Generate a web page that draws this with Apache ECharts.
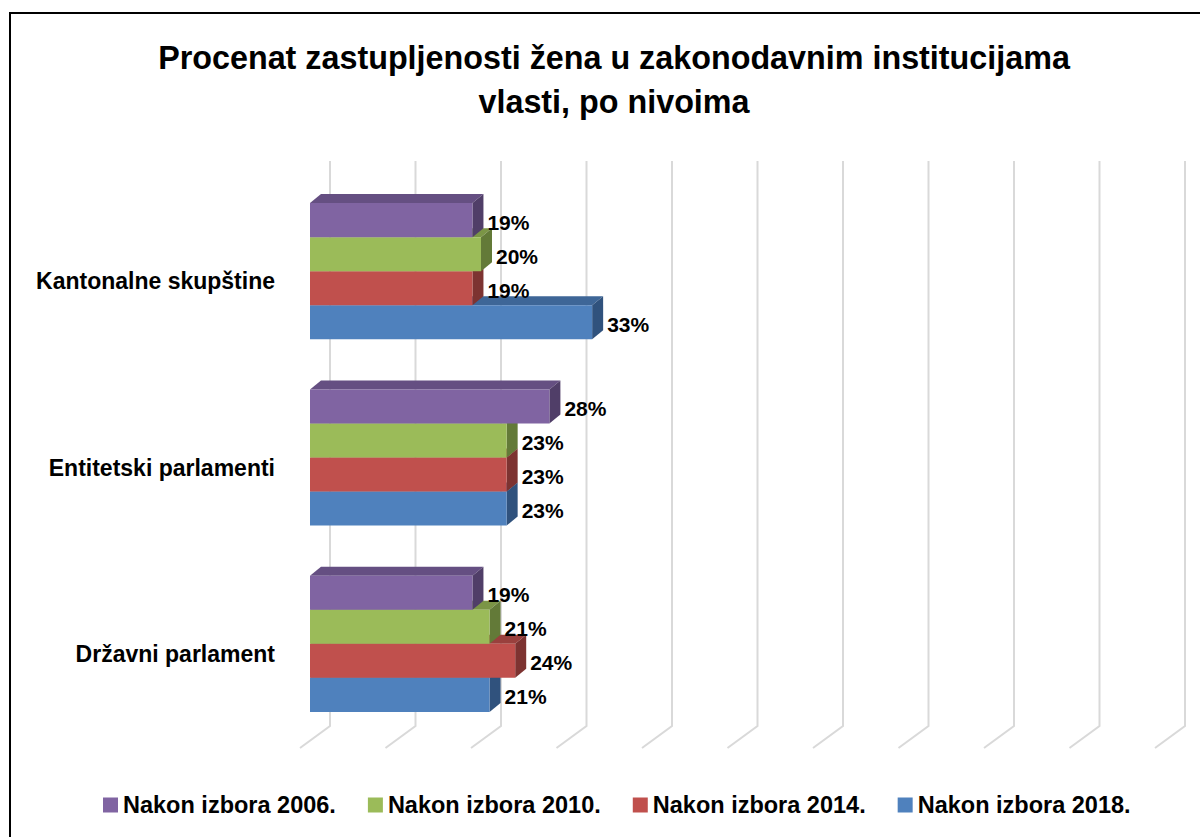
<!DOCTYPE html>
<html>
<head>
<meta charset="utf-8">
<script src="https://cdn.jsdelivr.net/npm/echarts@6/dist/echarts.min.js"></script>
<style>
  html, body { margin: 0; padding: 0; background: #fff; }
  #chart { width: 1200px; height: 837px; }
</style>
</head>
<body>
<div id="chart"></div>
<script>
const categories = ['Kantonalne skupštine', 'Entitetski parlamenti', 'Državni parlament'];
const years = ['Nakon izbora 2006.', 'Nakon izbora 2010.', 'Nakon izbora 2014.', 'Nakon izbora 2018.'];
const values2006 = [19, 28, 19];
const values2010 = [20, 23, 21];
const values2014 = [19, 23, 24];
const values2018 = [33, 23, 21];
const gridTicks = [0, 10, 20, 30, 40, 50, 60, 70, 80, 90, 100];

const FONT = '"Liberation Sans", Arial, sans-serif';
const colors = ['#8064A2', '#9BBB59', '#C0504D', '#4F81BD'];
const topColors = ['#654f82', '#7b9546', '#99403d', '#3e6697'];
const sideColors = ['#503e68', '#637a38', '#7d3331', '#30527d'];

// 3d depth of a bar, px
const DX = 11, DY = 9;

function barRenderer(idx) {
  return function (params, api) {
    const v = api.value(0);
    const cat = api.value(1);
    const p0 = api.coord([0, cat]);
    const p1 = api.coord([v, cat]);
    const band = api.size([0, 1])[1];
    const h = band * 0.1826;
    const y0 = p0[1] - 2 * h + idx * h;
    const y1 = y0 + h;
    const x0 = p0[0], x1 = p1[0];
    return {
      type: 'group',
      children: [
        {
          type: 'polygon',
          shape: { points: [[x0, y0], [x0 + DX, y0 - DY], [x1 + DX, y0 - DY], [x1, y0]] },
          style: { fill: topColors[idx] }
        },
        {
          type: 'polygon',
          shape: { points: [[x1, y0], [x1 + DX, y0 - DY], [x1 + DX, y1 - DY], [x1, y1]] },
          style: { fill: sideColors[idx] }
        },
        {
          type: 'rect',
          shape: { x: x0, y: y0, width: x1 - x0, height: h },
          style: { fill: colors[idx] }
        },
        {
          type: 'text',
          style: {
            text: v + '%',
            x: x1 + DX + 4,
            y: (y0 + y1) / 2 + 2,
            verticalAlign: 'middle',
            align: 'left',
            fontSize: 21,
            fontWeight: 'bold',
            fontFamily: FONT,
            fill: '#000'
          }
        }
      ]
    };
  };
}

function gridRenderer(params, api) {
  const x = api.coord([api.value(0), 0])[0];
  const cs = params.coordSys;
  const bottom = cs.y + cs.height;
  return {
    type: 'polyline',
    shape: { points: [[x + 20, cs.y - 17], [x + 20, bottom - 11], [x - 10, bottom + 11]] },
    style: { stroke: '#d9d9d9', lineWidth: 2, fill: 'none' }
  };
}

const seriesData = [values2006, values2010, values2014, values2018];

const series = [{
  type: 'custom',
  name: 'grid',
  renderItem: gridRenderer,
  data: gridTicks.map(t => [t, 0]),
  encode: { x: 0, y: 1 },
  silent: true,
  z: 1
}];
// draw from the lowest bar up so upper bars cover the top faces below
for (let i = 3; i >= 0; i--) {
  series.push({
    type: 'custom',
    name: years[i],
    renderItem: barRenderer(i),
    itemStyle: { color: colors[i] },
    data: seriesData[i].map((v, c) => [v, c]),
    encode: { x: 0, y: 1 },
    z: 2
  });
}

const chart = echarts.init(document.getElementById('chart'), null, { renderer: 'svg' });
chart.setOption({
  backgroundColor: '#fff',
  animation: false,
  title: {
    text: 'Procenat zastupljenosti žena u zakonodavnim institucijama\nvlasti, po nivoima',
    left: 614,
    top: 36,
    padding: 0,
    textAlign: 'center',
    textStyle: { fontSize: 32.3, fontWeight: 'bold', fontFamily: FONT, color: '#000', lineHeight: 44 }
  },
  legend: {
    data: years,
    left: 98,
    top: 788,
    icon: 'rect',
    itemWidth: 15,
    itemHeight: 15,
    itemGap: 32,
    textStyle: { fontSize: 23.5, fontWeight: 'bold', fontFamily: FONT, color: '#000' }
  },
  grid: { left: 310, right: 35, top: 178, height: 559 },
  xAxis: {
    type: 'value',
    min: 0,
    max: 100,
    interval: 10,
    axisLine: { show: false },
    axisTick: { show: false },
    axisLabel: { show: false },
    splitLine: { show: false }
  },
  yAxis: {
    type: 'category',
    data: categories,
    inverse: true,
    axisLine: { show: false },
    axisTick: { show: false },
    axisLabel: {
      margin: 35,
      verticalAlign: 'top',
      lineHeight: 20,
      fontSize: 23,
      fontWeight: 'bold',
      fontFamily: FONT,
      color: '#000'
    }
  },
  graphic: [{
    type: 'rect',
    shape: { x: 10, y: 13, width: 1200, height: 900 },
    style: { fill: 'none', stroke: '#000', lineWidth: 2 },
    silent: true
  }],
  series: series
});
</script>
</body>
</html>
